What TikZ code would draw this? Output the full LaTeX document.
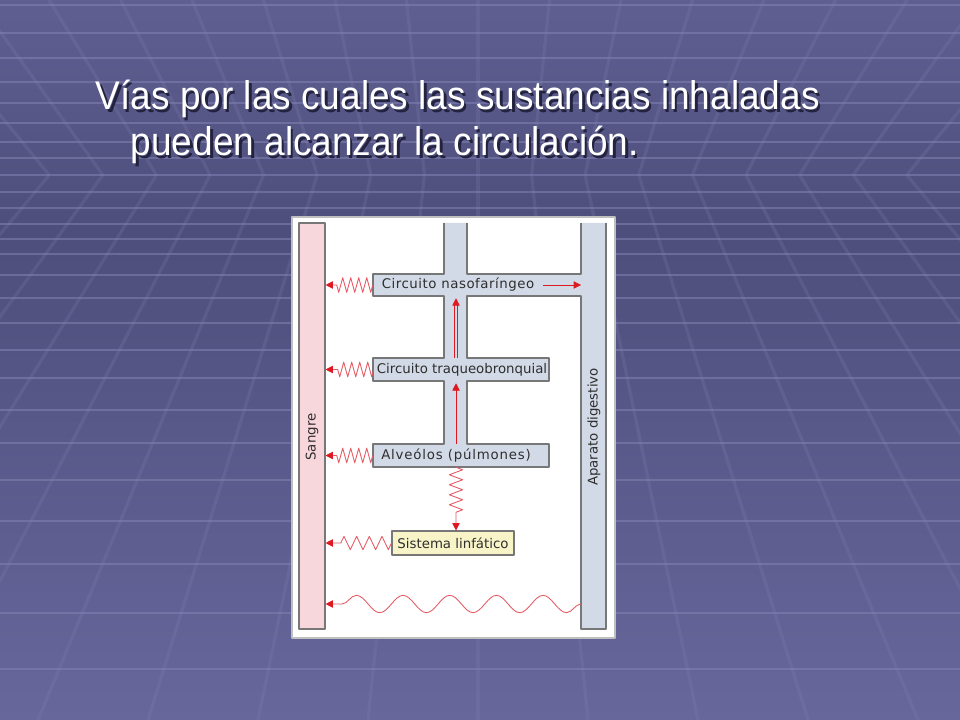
\documentclass[tikz,border=0pt]{standalone}
\usepackage{fontspec}
\setmainfont{Liberation Sans}
\newfontfamily\titlefont[FakeStretch=0.925]{Liberation Sans}
\newfontfamily\diagfont{DejaVu Sans}
\usetikzlibrary{arrows.meta,decorations.pathmorphing,positioning}
\definecolor{bgtop}{HTML}{5F5F92}
\definecolor{bgmid}{HTML}{4E4E7C}
\definecolor{bgbot}{HTML}{67679C}
\definecolor{gridcol}{HTML}{8282B4}
\definecolor{shadowcol}{HTML}{23233F}
\definecolor{tubeblue}{HTML}{D3DAE7}
\definecolor{bloodpink}{HTML}{F7D6DC}
\definecolor{lymphyellow}{HTML}{F8F4C8}
\definecolor{edgegray}{HTML}{777777}
\definecolor{flowred}{HTML}{DD1A22}
\definecolor{wavered}{HTML}{E55A64}
\definecolor{txtgray}{HTML}{2E2E2E}
\newcommand\shadowed[1]{\makebox[0pt][l]{\hspace{1.9pt}\raisebox{-1.9pt}{\color{shadowcol}#1}}#1}
\tikzset{
  ttl/.style={font=\titlefont\fontsize{30}{36}\selectfont, text=white, inner sep=0pt, anchor=base west},
  lbl/.style={font=\diagfont\fontsize{10}{12}\selectfont, text=txtgray, inner sep=0pt},
  wig/.style={wavered, line width=0.65pt, decorate, decoration={zigzag, segment length=6pt, amplitude=5.5pt, post length=7.5pt}},
  wiglong/.style={wig, decoration={zigzag, segment length=9.5pt, amplitude=5pt, post length=11pt}},
  wigdown/.style={wig, decoration={zigzag, segment length=7.5pt, amplitude=5pt, post length=10pt}},
  wave/.style={wavered, line width=0.65pt, decorate, decoration={snake, segment length=35pt, amplitude=6.5pt, post length=11pt}}
}
\begin{document}
\begin{tikzpicture}[x=0.75pt,y=-0.75pt,line join=round,>={Triangle[length=5.5pt,width=5.5pt,color=flowred]}]
\useasboundingbox (0,0) rectangle (960,720);
% fondo
\begin{scope}
  \clip (0,0) rectangle (960,720);
  \fill[top color=bgtop,bottom color=bgmid] (0,0) rectangle (960,231);
  \fill[top color=bgmid,bottom color=bgbot] (0,230) rectangle (960,720);
  \foreach \y in {5,33,58,82,103,123,142,158,175,192,208,224,239,254,275,298,323,350,378,410,443,480,521,564,613,669}
    \draw[gridcol,opacity=.55,line width=1.1pt] (0,\y) -- (960,\y);
  \foreach \k in {-10,...,10}{
    \draw[gridcol,opacity=.22,line width=2.4pt] (478+\k*53.6,175) -- (478+\k*71.5,0);
    \draw[gridcol,opacity=.22,line width=2.4pt] (478+\k*53.6,175) -- (478+\k*110,720);}
\end{scope}
% titulo
\node[ttl] (line1) at (95.5,110) {\shadowed{Vías por las cuales las sustancias inhaladas}};
\node[ttl] (line2) at (130.5,156) {\shadowed{pueden alcanzar la circulación.}};
% panel
\draw[fill=white,draw=gray!50,line width=0.8pt] (292,217) rectangle (615,638);
\node[draw=edgegray,fill=bloodpink,line width=0.8pt,minimum width=19.5pt,minimum height=304.5pt,inner sep=0pt] (sangre) at (312,426) {};
\fill[tubeblue] (444,223) -- (444,274) -- (373,274) -- (373,296) -- (444,296) -- (444,358) -- (373,358) -- (373,381)
  -- (444,381) -- (444,444) -- (373,444) -- (373,467) -- (549,467) -- (549,444) -- (467,444) -- (467,381) -- (549,381)
  -- (549,358) -- (467,358) -- (467,296) -- (581,296) -- (581,629) -- (606,629) -- (606,223) -- (581,223) -- (581,274)
  -- (467,274) -- (467,223) -- cycle;
\draw[edgegray,line width=0.8pt] (467,223) -- (467,274) -- (581,274) -- (581,223);
\draw[edgegray,line width=0.8pt] (444,223) -- (444,274) -- (373,274) -- (373,296) -- (444,296) -- (444,358) -- (373,358)
  -- (373,381) -- (444,381) -- (444,444) -- (373,444) -- (373,467) -- (549,467) -- (549,444) -- (467,444) -- (467,381)
  -- (549,381) -- (549,358) -- (467,358) -- (467,296) -- (581,296) -- (581,629) -- (606,629) -- (606,223);
\coordinate (gut) at (581,604);
\node[lbl,minimum width=127.5pt,minimum height=16.5pt] (naso) at (458,285) {\addfontfeature{LetterSpace=4}Circuito nasofaríngeo};
\node[lbl,minimum width=132pt,minimum height=17.25pt] (traq) at (462,369.5) {Circuito traqueobronquial};
\node[lbl,minimum width=124.5pt,minimum height=17.25pt] (alv) at (456,455.5) {\addfontfeature{LetterSpace=6}Alveólos (púlmones)};
\node[lbl,draw=edgegray,fill=lymphyellow,line width=0.8pt,minimum width=91.5pt,minimum height=18pt] (linf) at (453,543) {Sistema linfático};
\node[lbl,rotate=90] (sangrelbl) at (312,437) {Sangre};
\node[lbl,rotate=90] (digest) at (594,427) {Aparato digestivo};
% vias
\draw[wig,->] (naso.west) -- (naso.west -| sangre.east);
\draw[wig,->] (traq.west) -- (traq.west -| sangre.east);
\draw[wig,->] (alv.west) -- (alv.west -| sangre.east);
\draw[wigdown,->] (alv.south) -- (alv.south |- linf.north);
\draw[wiglong,->] (linf.west) -- (linf.west -| sangre.east);
\draw[wave,->] (gut) -- (gut -| sangre.east);
\draw[flowred,line width=0.6pt,->] (naso.east) -- (naso.east -| gut);
\draw[flowred,line width=0.5pt,->] (alv.north) -- ([yshift=-1.5pt]alv.north |- traq.south);
\draw[flowred,line width=0.45pt,double=tubeblue,double distance=1.6pt,->] (traq.north -| alv.north) -- ([yshift=-1.5pt]alv.north |- naso.south);
\end{tikzpicture}
\end{document}
